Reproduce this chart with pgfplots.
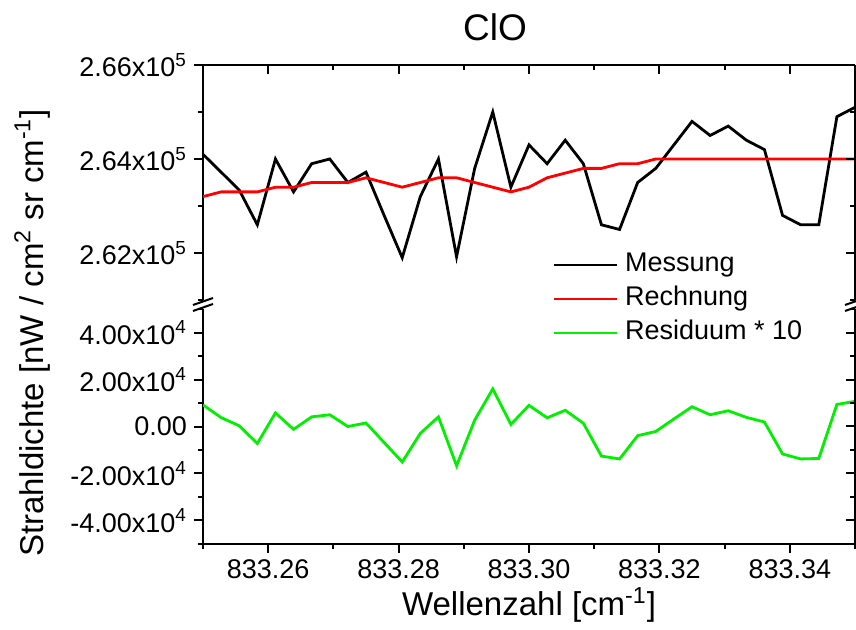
\documentclass[border=0pt]{standalone}
\usepackage{pgfplots}
\usepackage{pgfplotstable}
\pgfplotsset{compat=1.18}
\usepackage{fontspec}
\setmainfont{Liberation Sans}
\definecolor{myred}{RGB}{255,0,0}
\definecolor{mygreen}{RGB}{0,240,0}

% x = (wavenumber - 833) * 1000
\pgfplotstableread{
x M R
250 264100 263200
252.778 263720 263300
255.556 263340 263300
258.333 262600 263300
261.111 264000 263400
263.889 263300 263400
266.667 263900 263500
269.444 264000 263500
272.222 263500 263500
275 263720 263600
277.778 262800 263500
280.556 261900 263400
283.333 263200 263500
286.111 264000 263600
288.889 261920 263600
291.667 263800 263500
294.444 265000 263400
297.222 263400 263300
300 264300 263400
302.778 263900 263600
305.556 264400 263700
308.333 263900 263800
311.111 262600 263800
313.889 262500 263900
316.667 263500 263900
319.444 263800 264000
322.222 264300 264000
325 264800 264000
327.778 264500 264000
330.556 264700 264000
333.333 264400 264000
336.111 264200 264000
338.889 262800 264000
341.667 262600 264000
344.444 262600 264000
347.222 264900 264000
350 265100 264000
}\uppertable

\pgfplotstableread{
x Res
250 9200
252.778 3800
255.556 300
258.333 -7200
261.111 5800
263.889 -1200
266.667 4100
269.444 5000
272.222 0
275 1500
277.778 -6800
280.556 -15100
283.333 -2900
286.111 4100
288.889 -16700
291.667 2700
294.444 16000
297.222 900
300 9000
302.778 3700
305.556 6900
308.333 1400
311.111 -12600
313.889 -13800
316.667 -3900
319.444 -2100
322.222 3200
325 8400
327.778 5000
330.556 6700
333.333 3900
336.111 1900
338.889 -11700
341.667 -13800
344.444 -13600
347.222 9400
350 10700
}\lowertable

\pgfplotsset{
  brk/.style={
    width=326pt, height=117.5pt, scale only axis,
    xmin=250, xmax=350,
    scaled ticks=false,
    axis line style={-, line width=1pt, black},
    tick style={black, line width=1pt},
    major tick length=4.5pt, minor tick length=2.5pt,
    tick label style={font=\fontsize{13.5}{16}\selectfont},
    xtick={260,280,300,320,340},
    minor xtick={250,270,290,310,330,350},
  },
  upy/.style={
    ymin=261000, ymax=266000,
    ytick={262000,264000,266000},
    minor ytick={261000,263000,265000},
  },
  loy/.style={
    ymin=-50000, ymax=50000,
    ytick={-40000,-20000,0,20000,40000},
    minor ytick={-50000,-30000,-10000,10000,30000,50000},
  },
}

\begin{document}
\begin{tikzpicture}
\useasboundingbox (0pt,0pt) rectangle (428pt,315pt);

% upper panel: data + left axis
\begin{axis}[brk, upy,
  at={(101.5pt,165pt)}, anchor=south west,
  axis y line*=left, axis x line=none,
  tick align=outside,
  yticklabels={2.62x10\textsuperscript{5},2.64x10\textsuperscript{5},2.66x10\textsuperscript{5}},
]
\addplot[black, line width=1.4pt] table[x=x, y=M] {\uppertable};
\addplot[myred, line width=1.4pt] table[x=x, y=R] {\uppertable};
\end{axis}

% upper panel: top and right axis lines, inward ticks
\begin{axis}[brk, upy,
  at={(101.5pt,165pt)}, anchor=south west,
  axis x line*=top, axis y line*=right,
  tick align=inside,
  xticklabel=\empty, yticklabel=\empty,
]
\end{axis}

% lower panel: data + left and bottom axis
\begin{axis}[brk, loy,
  at={(101.5pt,43pt)}, anchor=south west,
  axis x line*=bottom, axis y line*=left,
  tick align=outside,
  xticklabels={833.26,833.28,833.30,833.32,833.34},
  yticklabels={-4.00x10\textsuperscript{4},-2.00x10\textsuperscript{4},0.00,2.00x10\textsuperscript{4},4.00x10\textsuperscript{4}},
  legend style={draw=none, fill=none, at={(axis description cs:0.526,1.27)}, anchor=north west,
    font=\fontsize{13.5}{16}\selectfont, row sep=2pt, column sep=2.5pt,
    nodes={inner sep=1pt, text height=10pt, text depth=3pt}},
  legend cell align=left,
  legend image code/.code={\draw[#1] (0pt,0pt) -- (31.5pt,0pt);},
]
\addlegendimage{black, line width=1.2pt}
\addlegendentry{Messung}
\addlegendimage{myred, line width=1.2pt}
\addlegendentry{Rechnung}
\addplot[mygreen, line width=1.4pt] table[x=x, y=Res] {\lowertable};
\addlegendentry{Residuum * 10}
\end{axis}

% lower panel: right axis, inward ticks
\begin{axis}[brk, loy,
  at={(101.5pt,43pt)}, anchor=south west,
  axis x line=none, axis y line*=right,
  tick align=inside,
  yticklabel=\empty,
]
\end{axis}

% axis break marks
\draw[line width=1pt] (96.5pt,162.5pt) -- (106.5pt,166pt);
\draw[line width=1pt] (96.5pt,159.5pt) -- (106.5pt,163pt);
\draw[line width=1pt] (422.5pt,162.5pt) -- (432.5pt,166pt);
\draw[line width=1pt] (422.5pt,159.5pt) -- (432.5pt,163pt);

% title and axis labels
\node[font=\fontsize{18.5}{22}\selectfont, anchor=base] at (247.5pt,294.5pt) {ClO};
\node[font=\fontsize{16.5}{20}\selectfont, anchor=base] at (264.5pt,7pt) {Wellenzahl [cm\textsuperscript{-1}]};
\node[font=\fontsize{16.5}{20}\selectfont, anchor=base, rotate=90] at (21.5pt,148.5pt) {Strahldichte [nW / cm\textsuperscript{2} sr cm\textsuperscript{-1}]};
\end{tikzpicture}
\end{document}
